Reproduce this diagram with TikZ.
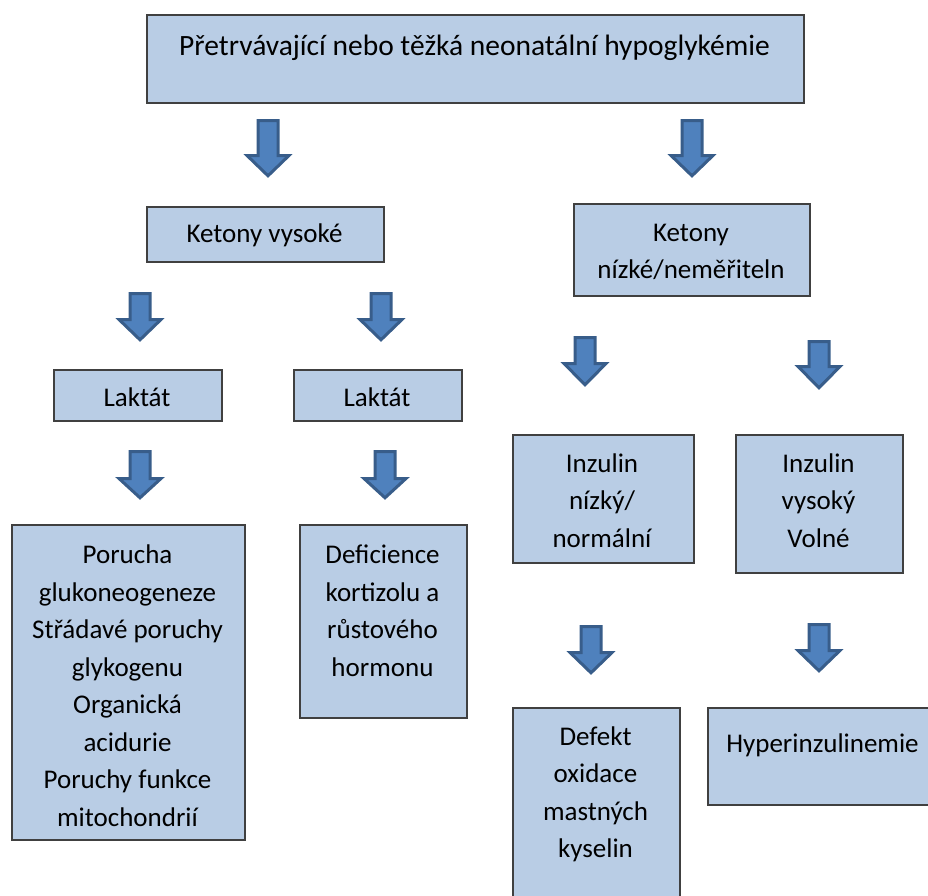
\documentclass[tikz,border=0pt]{standalone}
\usepackage{fontspec}
\setmainfont{Carlito}
\definecolor{boxfill}{HTML}{B9CDE5}
\definecolor{boxline}{HTML}{404040}
\definecolor{arrfill}{HTML}{4F81BD}
\definecolor{arrline}{HTML}{385D8A}
\tikzset{
  box/.style={draw=boxline, fill=boxfill, line width=1.5pt, anchor=north west, inner sep=0pt},
  txt/.style={anchor=north, inner sep=0pt, align=center, font=\fontsize{27}{37.5}\selectfont},
  bigtxt/.style={txt, font=\fontsize{29.5}{37.5}\selectfont},
  blockarrow/.style={draw=arrline, fill=arrfill, line width=3pt, line join=miter}
}
% x, top, head start, tip (outer extents)
\newcommand{\downarrowblock}[4]{%
  \draw[blockarrow] ({#1-10},{#2+1.5}) -- ({#1+10},{#2+1.5}) -- ({#1+10},{#3+1.5})
    -- ({#1+21},{#3+1.5}) -- ({#1},{#4-2.2}) -- ({#1-21},{#3+1.5}) -- ({#1-10},{#3+1.5}) -- cycle;}
\begin{document}
\begin{tikzpicture}[x=1pt,y=-1pt]
\clip (0,0) rectangle (928,895);
% boxes
\node[box, minimum width=657pt, minimum height=88pt] (top) at (146,14) {};
\node[box, minimum width=237pt, minimum height=55pt] (kv) at (146,206) {};
\node[box, minimum width=236pt, minimum height=92pt] (kn) at (573,203) {};
\node[box, minimum width=168pt, minimum height=51pt] (l1) at (53,369) {};
\node[box, minimum width=168pt, minimum height=51pt] (l2) at (293,369) {};
\node[box, minimum width=233pt, minimum height=315pt] (por) at (11,524) {};
\node[box, minimum width=167pt, minimum height=193pt] (def) at (299,524) {};
\node[box, minimum width=181pt, minimum height=128pt] (inn) at (512,434) {};
\node[box, minimum width=167pt, minimum height=138pt] (inv) at (735,434) {};
\node[box, minimum width=167pt, minimum height=203pt] (dfk) at (512,707) {};
\node[box, minimum width=233pt, minimum height=97pt] (hyp) at (707,707) {};
% texts (y = first baseline - 26.25)
\node[bigtxt] (ttop) at (474.5,29) {\strut Přetrvávající nebo těžká neonatální hypoglykémie};
\node[txt] (tkv) at (264.5,215.75) {\strut Ketony vysoké};
\node[txt] (tkn) at (691,214.75) {\strut Ketony\\nízké/neměřiteln};
\node[txt] (tl1) at (137,379.75) {\strut Laktát};
\node[txt] (tl2) at (377,379.75) {\strut Laktát};
\node[txt] (tpor) at (127.5,537.25) {\strut Porucha\\glukoneogeneze\\Střádavé poruchy\\glykogenu\\Organická\\acidurie\\Poruchy funkce\\mitochondrií};
\node[txt] (tdef) at (382.5,537.25) {\strut Deficience\\kortizolu a\\růstového\\hormonu};
\node[txt] (tinn) at (602,445.75) {\strut Inzulin\\nízký/\\normální};
\node[txt] (tinv) at (818.5,445.75) {\strut Inzulin\\vysoký\\Volné};
\node[txt] (tdfk) at (595.5,718.75) {\strut Defekt\\oxidace\\mastných\\kyselin};
\node[txt] (thyp) at (822.5,725.75) {\strut Hyperinzulinemie};
% block arrows
\downarrowblock{268}{119}{154}{178}
\downarrowblock{692}{119}{154}{178}
\downarrowblock{140}{292}{318}{342}
\downarrowblock{381}{292}{318}{342}
\downarrowblock{585}{336}{362}{387}
\downarrowblock{819}{340}{365}{390}
\downarrowblock{140}{450}{477}{500}
\downarrowblock{385}{450}{477}{500}
\downarrowblock{591}{625}{651}{675}
\downarrowblock{819}{623}{649}{673}
\end{tikzpicture}
\end{document}
